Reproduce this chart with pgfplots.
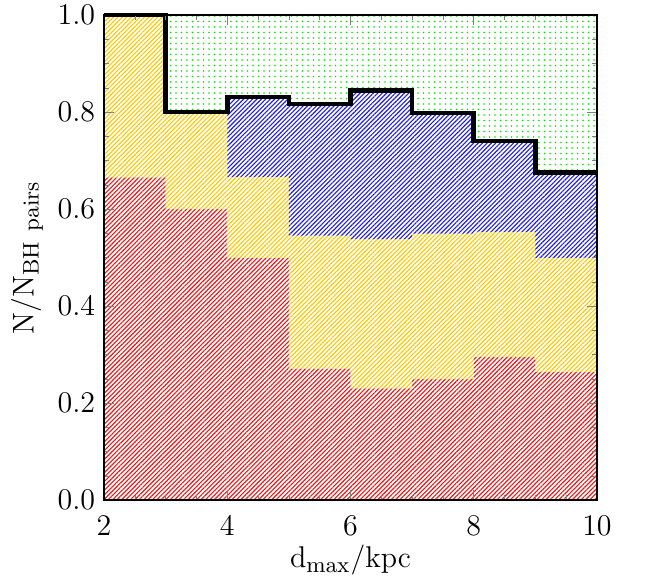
\documentclass[border=0pt]{standalone}
\usepackage{pgfplots}
\usepackage{pgfplotstable}
\pgfplotsset{compat=1.18}
\usepgfplotslibrary{fillbetween}
\usetikzlibrary{patterns.meta}
\definecolor{hred}{RGB}{240,20,20}
\definecolor{hyel}{RGB}{255,200,0}
\definecolor{hblue}{RGB}{30,30,230}
\definecolor{hgreen}{RGB}{0,230,0}
\pgfplotstableread{
x red yellow total zero one
2 0.665 1.000 1.000 0 1
3 0.600 0.800 0.800 0 1
4 0.499 0.666 0.831 0 1
5 0.271 0.545 0.817 0 1
6 0.230 0.538 0.844 0 1
7 0.249 0.549 0.798 0 1
8 0.295 0.553 0.740 0 1
9 0.264 0.499 0.675 0 1
10 0.264 0.499 0.675 0 1
}\data
\begin{document}
\begin{tikzpicture}
\begin{axis}[
  scale only axis,
  width=197.2pt, height=194pt,
  xmin=2, xmax=10, ymin=0, ymax=1.0,
  xtick={2,4,6,8,10},
  ytick={0,0.2,0.4,0.6,0.8,1.0},
  minor x tick num=3, minor y tick num=3,
  tick align=inside,
  major tick length=4pt, minor tick length=2pt,
  tick label style={font=\fontsize{11.5}{13}\selectfont},
  label style={font=\fontsize{13}{15}\selectfont},
  yticklabel style={/pgf/number format/fixed,/pgf/number format/fixed zerofill,/pgf/number format/precision=1},
  xticklabel style={yshift=-3pt},
  xlabel={$\mathrm{d_{max}/kpc}$},
  ylabel={$\mathrm{N/N_{BH\ pairs}}$},
  xlabel style={yshift=3pt},
  ylabel style={yshift=-1pt},
  axis on top,
  clip=false,
  axis line style={line width=0.5pt},
]
\addplot[const plot, draw=none, name path=Z] table[x=x,y=zero] {\data};
\addplot[const plot, draw=none, name path=R] table[x=x,y=red] {\data};
\addplot[const plot, draw=none, name path=Y] table[x=x,y=yellow] {\data};
\addplot[const plot, draw=none, name path=T] table[x=x,y=total] {\data};
\addplot[const plot, draw=none, name path=O] table[x=x,y=one] {\data};
\addplot[draw=none, pattern={Lines[angle=45,distance=1.25pt,line width=0.45pt]}, pattern color=hred] fill between[of=Z and R];
\addplot[draw=none, pattern={Lines[angle=45,distance=1.25pt,line width=0.45pt]}, pattern color=hyel] fill between[of=R and Y];
\addplot[draw=none, pattern={Lines[angle=45,distance=1.25pt,line width=0.45pt]}, pattern color=hblue] fill between[of=Y and T];
\addplot[draw=none, pattern={Dots[distance=2.2pt,radius=0.35pt]}, pattern color=hgreen] fill between[of=T and O];
\addplot[const plot, black, line width=1.8pt] table[x=x,y=total] {\data};
\path (rel axis cs:0,0) ++(-41.6pt,-30.8pt) coordinate (bbSW);
\path (rel axis cs:1,1) ++(27.6pt,6pt) coordinate (bbNE);
\end{axis}
\pgfresetboundingbox
\path (bbSW) rectangle (bbNE);
\end{tikzpicture}
\end{document}
